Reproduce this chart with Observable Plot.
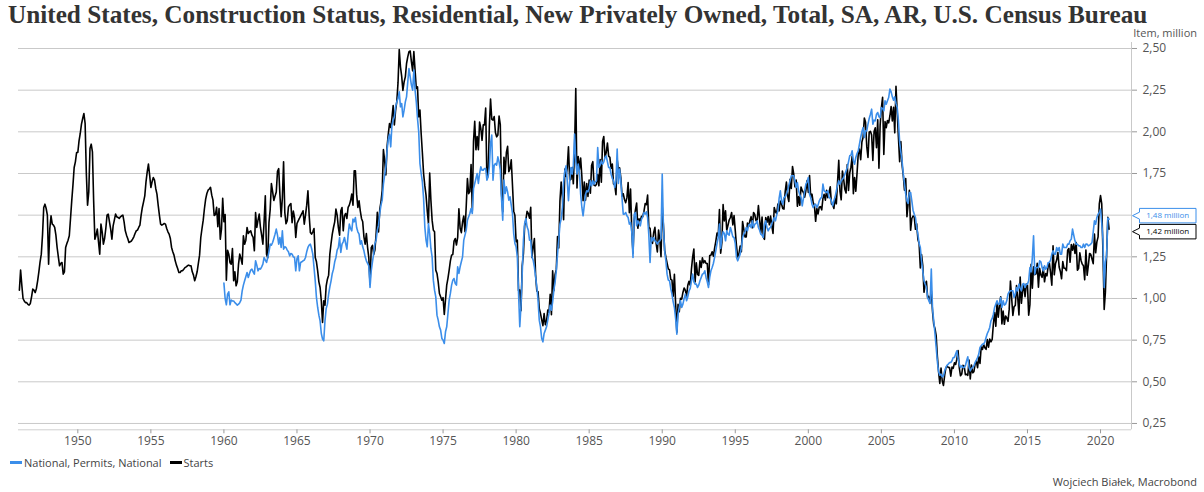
<!DOCTYPE html>
<html><head><meta charset="utf-8">
<script src="https://cdn.jsdelivr.net/npm/d3@7"></script>
<script src="https://cdn.jsdelivr.net/npm/@observablehq/plot@0.6"></script>
<style>
body{margin:0;background:#fff;}
#wrap{position:relative;width:1204px;height:492px;overflow:hidden;font-family:"Open Sans",sans-serif;background:#fff;}
#chart{position:absolute;left:0;top:0;}
#title{position:absolute;left:8px;top:1px;font-family:"Liberation Serif",serif;font-weight:bold;font-size:22px;color:#333;white-space:nowrap;}
#unit{position:absolute;right:7px;top:25px;font-size:11px;color:#555;}
#legend{position:absolute;left:10px;top:455px;font-size:11px;color:#444;display:flex;align-items:center;}
#legend .sw{display:inline-block;width:12px;height:3px;margin-right:2px;}
#legend .it{display:flex;align-items:center;margin-right:8px;}
#source{position:absolute;right:7px;top:474px;font-size:11px;color:#444;}
</style></head><body>
<div id="wrap">
  <div id="chart"></div>
  <div id="title">United States, Construction Status, Residential, New Privately Owned, Total, SA, AR, U.S. Census Bureau</div>
  <div id="unit">Item, million</div>
  <div id="legend"></div>
  <div id="source">Wojciech Białek, Macrobond</div>
</div>
<script>
// ---- data (thousands of units, SAAR, monthly) ----
const startsFirstYear = 1946;
const startsValues = [
1050,1170,1080,1000,985,975,975,965,960,970,1010,1056,
1050,1035,1060,1106,1160,1220,1266,1380,1546,1566,1540,1500,
1206,1420,1496,1446,1440,1426,1380,1306,1250,1196,1210,1216,
1146,1160,1306,1330,1350,1376,1480,1586,1680,1786,1820,1876,
1876,1946,1990,2046,2080,2110,2050,1750,1560,1640,1900,1926,
1880,1586,1356,1380,1416,1340,1266,1446,1400,1326,1360,1420,
1500,1506,1460,1416,1356,1436,1470,1506,1490,1486,1480,1490,
1496,1500,1460,1406,1380,1360,1336,1340,1345,1356,1370,1390,
1406,1410,1426,1440,1500,1546,1580,1616,1700,1760,1806,1740,
1666,1700,1726,1710,1660,1626,1560,1500,1446,1440,1445,1450,
1446,1420,1400,1386,1360,1306,1280,1260,1226,1200,1180,1156,
1156,1166,1166,1175,1185,1190,1196,1200,1196,1196,1160,1140,
1106,1130,1160,1210,1260,1366,1420,1470,1540,1596,1630,1650,
1657,1667,1620,1590,1498,1503,1547,1430,1540,1355,1416,1601,
1460,1503,1109,1289,1266,1215,1206,1300,1106,1160,1076,1100,
1206,1266,1240,1206,1376,1326,1350,1426,1390,1400,1406,1380,
1366,1286,1516,1426,1470,1506,1426,1380,1326,1460,1616,1266,
1244,1456,1534,1689,1641,1588,1614,1639,1763,1779,1622,1491,
1603,1820,1517,1448,1467,1550,1562,1569,1455,1524,1486,1366,
1450,1466,1480,1496,1510,1526,1446,1500,1560,1646,1500,1396,
1386,1400,1420,1246,1220,1166,1100,1066,986,856,986,960,
1076,1116,1140,1266,1330,1386,1426,1460,1536,1500,1426,1380,
1526,1546,1406,1496,1510,1480,1546,1560,1586,1626,1560,1766,
1766,1626,1546,1586,1526,1480,1460,1370,1326,1390,1306,1246,
1085,1305,1319,1264,1290,1385,1517,1399,1534,1580,1647,1893,
1828,1741,1910,1986,2049,2026,2083,2158,2041,2128,2182,2295,
2494,2390,2334,2249,2300,2330,2410,2450,2481,2485,2421,2366,
2481,2370,2260,2270,2090,2130,1990,1874,1750,1677,1620,1526,
1451,1752,1590,1470,1410,1400,1170,1150,1100,1030,1010,990,
1005,904,993,1080,1121,1170,1226,1260,1264,1344,1360,1321,
1367,1538,1421,1395,1459,1495,1401,1550,1720,1629,1641,1804,
1527,1943,2063,1892,1971,1893,2058,2020,1949,2042,2042,2142,
1718,1738,2032,2197,2075,2070,2092,1996,1970,1981,2094,2044,
1630,1520,1847,1748,1876,1913,1760,1778,1832,1681,1524,1498,
1341,1350,1047,1051,927,1196,1269,1436,1471,1523,1510,1482,
1547,1246,1306,1360,1140,1045,1041,940,911,873,837,910,
843,866,931,917,1025,902,1166,1046,1144,1173,1372,1303,
1586,1699,1606,1472,1776,1733,1785,1910,1710,1715,1785,1688,
1897,2260,1663,1851,1774,1843,1732,1586,1698,1590,1689,1612,
1711,1632,1800,1821,1680,1676,1684,1743,1676,1834,1698,1942,
1972,1848,1876,1933,1854,1847,1782,1807,1687,1681,1623,1833,
1774,1784,1726,1614,1628,1594,1575,1605,1695,1515,1656,1400,
1271,1473,1532,1573,1421,1478,1467,1493,1492,1522,1569,1563,
1621,1425,1422,1339,1331,1397,1427,1332,1279,1410,1351,1251,
1551,1437,1289,1248,1212,1177,1171,1115,1110,1014,1145,969,
798,965,921,1001,996,1036,1063,1049,1015,1079,1103,1079,
1176,1250,1297,1099,1214,1145,1139,1226,1186,1244,1214,1227,
1210,1210,1083,1258,1260,1280,1254,1300,1343,1392,1376,1533,
1272,1337,1564,1465,1526,1409,1439,1471,1486,1516,1441,1497,
1407,1316,1249,1267,1314,1281,1461,1416,1369,1369,1452,1431,
1467,1491,1424,1516,1504,1467,1472,1557,1475,1392,1489,1370,
1355,1486,1457,1492,1442,1494,1437,1390,1546,1520,1510,1566,
1525,1584,1567,1540,1536,1641,1698,1614,1582,1715,1660,1792,
1748,1670,1710,1553,1611,1559,1669,1648,1635,1608,1648,1708,
1636,1737,1604,1626,1575,1559,1463,1541,1507,1549,1551,1532,
1600,1625,1590,1649,1605,1636,1670,1567,1562,1540,1602,1568,
1698,1829,1642,1592,1764,1717,1655,1633,1804,1648,1753,1788,
1853,1629,1726,1643,1751,1867,1897,1833,1939,1967,2083,2057,
1911,1846,1998,2003,1981,1828,2002,2024,1905,2072,1782,2042,
2144,2207,1864,2061,2025,2068,2054,2095,2151,2065,2147,1994,
2273,2119,1969,1821,1942,1802,1737,1650,1720,1491,1570,1649,
1409,1480,1495,1490,1415,1448,1354,1330,1183,1264,1197,1037,
1084,1103,1005,1013,973,1046,923,844,820,777,652,560,
490,582,505,478,540,585,594,586,585,534,588,581,
614,604,636,687,583,536,546,599,594,543,545,539,
630,517,600,554,561,608,623,585,650,610,711,694,
723,704,695,753,708,757,740,754,847,915,833,976,
888,962,1010,847,925,845,895,883,863,936,1105,1003,
898,951,958,1078,1005,901,1128,971,1044,1080,1011,1087,
1080,900,963,1205,1062,1190,1143,1148,1211,1067,1181,1141,
1127,1185,1100,1149,1136,1196,1213,1152,1080,1316,1142,1208,
1232,1276,1189,1162,1118,1221,1182,1181,1167,1289,1300,1217,
1324,1290,1327,1270,1335,1169,1181,1274,1228,1206,1196,1112,
1291,1139,1199,1270,1264,1237,1209,1386,1274,1340,1370,1567,
1617,1567,1276,934,1038,1265,1487,1416
];
const permitsFirstYear = 1960;
const permitsValues = [
1092,1000,962,1026,1040,962,990,985,985,975,968,960,
966,975,990,1046,1080,1106,1130,1156,1126,1150,1170,1176,
1160,1146,1226,1200,1166,1180,1176,1190,1206,1246,1230,1216,
1246,1280,1326,1320,1336,1360,1386,1416,1380,1326,1366,1306,
1406,1296,1310,1306,1290,1280,1256,1270,1266,1250,1246,1166,
1240,1256,1166,1216,1220,1226,1230,1246,1280,1306,1320,1326,
1300,1266,1186,1106,1006,946,900,866,790,756,746,866,
940,966,1026,1070,1106,1150,1176,1220,1246,1290,1306,1366,
1276,1326,1340,1366,1330,1296,1380,1446,1420,1406,1476,1460,
1486,1426,1400,1386,1326,1346,1310,1286,1250,1226,1210,1196,
1066,1166,1220,1270,1330,1350,1410,1440,1510,1560,1590,1686,
1740,1790,1890,1956,1986,1910,2040,2070,2090,2150,2180,2200,
2240,2150,2170,2090,2130,2180,2210,2300,2380,2330,2280,2250,
2370,2250,2180,2080,2000,1810,1750,1700,1600,1430,1350,1310,
1450,1390,1300,1250,1110,1050,1010,900,870,830,810,760,
750,730,800,830,910,990,1030,1080,1110,1120,1090,1080,
1190,1150,1190,1220,1250,1350,1380,1410,1470,1490,1510,1540,
1510,1660,1690,1720,1750,1690,1750,1790,1770,1770,1780,1780,
1710,1730,1790,1930,1980,1710,1800,1810,1800,1850,1820,1770,
1600,1470,1710,1630,1670,1640,1590,1610,1560,1510,1390,1330,
1310,1250,1030,830,960,1150,1350,1450,1480,1430,1410,1350,
1350,1250,1230,1190,1130,1070,990,870,830,760,740,790,
810,830,870,910,960,930,980,1050,1100,1166,1266,1350,
1446,1476,1546,1700,1766,1796,1706,1586,1700,1786,1746,1800,
1986,1826,1746,1806,1760,1626,1546,1496,1560,1626,1646,1640,
1660,1706,1676,1706,1686,1700,1706,1906,1786,1800,1826,1806,
1820,1846,1856,1820,1786,1786,1746,1720,1706,1666,1706,1896,
1690,1776,1706,1600,1506,1506,1516,1496,1486,1446,1456,1400,
1246,1506,1516,1436,1466,1450,1436,1476,1490,1516,1506,1520,
1486,1380,1216,1366,1346,1366,1346,1340,1326,1340,1346,1360,
1746,1426,1286,1226,1146,1110,1106,1060,1026,980,946,880,
786,906,946,986,946,966,1000,1026,986,1010,1046,1060,
1106,1146,1100,1086,1086,1066,1080,1106,1126,1146,1150,1166,
1126,1100,1066,1126,1166,1186,1210,1246,1286,1330,1366,1446,
1300,1366,1400,1390,1346,1406,1386,1380,1426,1400,1370,1366,
1330,1246,1226,1246,1266,1306,1366,1386,1400,1426,1406,1440,
1446,1426,1466,1426,1446,1450,1466,1426,1410,1386,1380,1366,
1446,1466,1426,1406,1420,1426,1450,1466,1486,1466,1500,1526,
1600,1646,1586,1566,1606,1610,1626,1646,1680,1706,1736,1736,
1736,1706,1666,1696,1646,1620,1606,1556,1600,1646,1686,1700,
1726,1626,1606,1566,1546,1560,1566,1546,1560,1586,1600,1606,
1686,1646,1640,1636,1646,1606,1600,1586,1556,1586,1610,1646,
1680,1706,1686,1706,1716,1726,1746,1766,1786,1820,1856,1860,
1886,1826,1806,1846,1870,1886,1926,1966,2000,2026,1966,2006,
2006,2046,2080,2106,2136,2046,2070,2066,2106,2116,2090,2086,
2146,2140,2126,2186,2166,2186,2206,2256,2240,2210,2190,2210,
2170,2146,2066,1940,1880,1826,1746,1686,1626,1586,1570,1636,
1636,1586,1530,1506,1486,1426,1386,1330,1306,1226,1166,1106,
1085,1066,1006,986,970,1176,940,866,790,706,620,560,
540,546,530,536,566,586,600,606,616,616,626,646,
646,666,686,640,606,586,596,586,586,596,626,650,
586,566,580,586,596,616,630,646,666,706,716,726,
726,740,766,790,806,826,866,880,906,946,966,986,
966,966,1006,946,986,960,966,986,1026,1040,1046,1046,
1046,1006,1026,1066,1046,1086,1060,1046,1086,1090,1066,1086,
1086,1106,1186,1160,1246,1376,1146,1186,1186,1186,1226,1220,
1186,1166,1196,1176,1186,1216,1216,1230,1266,1286,1266,1266,
1306,1286,1306,1266,1266,1326,1306,1306,1306,1326,1326,1346,
1356,1416,1380,1346,1326,1326,1316,1316,1306,1306,1326,1306,
1326,1326,1316,1320,1326,1336,1400,1466,1446,1486,1506,1516,
1536,1452,1356,1066,1220,1258,1483,1476
];
const seriesNames = ["National, Permits, National", "Starts"];
const seriesColors = ["#3b8eea", "#000000"];
const xTicks = [1950,1955,1960,1965,1970,1975,1980,1985,1990,1995,2000,2005,2010,2015,2020];
const yTicks = [0.25,0.5,0.75,1.0,1.25,1.5,1.75,2.0,2.25,2.5];

// ---- build tables ----
const toSeries = (vals, y0) => vals.map((v, i) => ({t: y0 + i / 12, v: v / 1000}));
const starts = toSeries(startsValues, startsFirstYear);
const permits = toSeries(permitsValues, permitsFirstYear);
const fmt = d => d3.format(".2f")(d).replace(".", ",");
const xDom = [1945.94, 2022.12], yDom = [0.212, 2.536];
const lastP = permits[permits.length - 1].v, lastS = starts[starts.length - 1].v;
// tick labels hidden behind the end-value boxes are left out (as in the reference)
const yLabelTicks = yTicks.filter(t => Math.abs(t - (lastP + lastS) / 2) > 0.08);

const plot = Plot.plot({
  width: 1204, height: 492,
  marginLeft: 18, marginRight: 73, marginTop: 42, marginBottom: 62.7,
  x: {domain: xDom},
  y: {domain: yDom},
  style: {fontFamily: "Open Sans, sans-serif", fontSize: "12px", color: "#555", background: "transparent", overflow: "visible"},
  marks: [
    Plot.ruleY(yTicks, {stroke: "#c9c9c9", strokeWidth: 1}),
    Plot.ruleY([yDom[0]], {stroke: "#d0d0d0", strokeWidth: 1}),
    Plot.ruleX([xDom[1]], {y1: yDom[0], y2: yDom[1], stroke: "#c9c9c9", strokeWidth: 1}),
    Plot.axisY({anchor: "right", ticks: yLabelTicks, tickFormat: fmt, tickSize: 5, tickPadding: 6, stroke: "#999", fill: "#555", label: null}),
    Plot.axisX({ticks: xTicks, tickFormat: d => String(d), tickSize: 4, tickPadding: 3, stroke: "#999", fill: "#555", label: null}),
    Plot.line(starts, {x: "t", y: "v", stroke: seriesColors[1], strokeWidth: 1.6}),
    Plot.line(permits, {x: "t", y: "v", stroke: seriesColors[0], strokeWidth: 1.6})
  ]
});
document.getElementById("chart").appendChild(plot);

// ---- end-value labels ----
const ys = plot.scale("y");
const xr = plot.scale("x");
const axisX = xr.apply(xDom[1]);
const labels = [
  {v: lastP, color: seriesColors[0]},
  {v: lastS, color: seriesColors[1]}
].map(d => ({...d, y: ys.apply(d.v)})).sort((a, b) => a.y - b.y);
const boxH = 14.5, gap = 1.5;
if (labels[1].y - labels[0].y < boxH + gap) {
  const mid = (labels[0].y + labels[1].y) / 2;
  labels[0].y = mid - (boxH + gap) / 2;
  labels[1].y = mid + (boxH + gap) / 2;
}
const svg = d3.select(plot.tagName.toLowerCase() === "svg" ? plot : plot.querySelector("svg"));
const bx0 = axisX + 8.5, bx1 = 1196;
labels.forEach(d => {
  const t = d.y - boxH / 2, b = d.y + boxH / 2;
  svg.append("path")
    .attr("d", `M${bx0},${t}L${bx1},${t}L${bx1},${b}L${bx0},${b}L${bx0},${d.y + 3.5}L${axisX + 1.5},${d.y}L${bx0},${d.y - 3.5}Z`)
    .attr("fill", "#fff").attr("stroke", d.color).attr("stroke-width", 1);
  svg.append("text")
    .attr("x", (bx0 + bx1) / 2).attr("y", d.y).attr("dy", "0.35em")
    .attr("text-anchor", "middle").attr("font-size", 8).attr("font-family", "Open Sans, sans-serif")
    .attr("fill", d.color)
    .text(fmt(d.v) + " million");
});

// ---- legend ----
const lg = document.getElementById("legend");
seriesNames.forEach((n, i) => {
  const it = document.createElement("span"); it.className = "it";
  const sw = document.createElement("span"); sw.className = "sw"; sw.style.background = seriesColors[i];
  it.appendChild(sw); it.appendChild(document.createTextNode(n)); lg.appendChild(it);
});

// ---- fit title width ----
const ti = document.getElementById("title");
const w = ti.getBoundingClientRect().width;
ti.style.fontSize = (22 * 1140 / w) + "px";
</script>
</body></html>
